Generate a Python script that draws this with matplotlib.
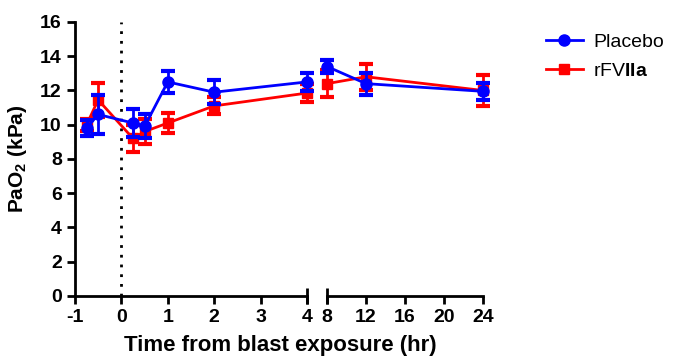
import matplotlib.pyplot as plt
from matplotlib.lines import Line2D

plt.rcParams['font.family'] = ['Liberation Sans', 'DejaVu Sans']
plt.rcParams['mathtext.fontset'] = 'custom'
plt.rcParams['mathtext.rm'] = 'Liberation Sans'
plt.rcParams['mathtext.bf'] = 'Liberation Sans:bold'

# time points (hr)
t_early = [-0.75, -0.5, 0.25, 0.5, 1, 2, 4]
t_late = [8, 12, 24]

placebo_early = [9.8, 10.6, 10.1, 9.9, 12.5, 11.9, 12.5]
placebo_early_err = [0.45, 1.15, 0.8, 0.7, 0.65, 0.7, 0.55]
placebo_late = [13.4, 12.4, 11.95]
placebo_late_err = [0.4, 0.65, 0.5]

rfviia_early = [10.0, 11.45, 9.2, 9.6, 10.1, 11.1, 11.85]
rfviia_early_err = [0.35, 1.0, 0.8, 0.75, 0.58, 0.5, 0.5]
rfviia_late = [12.4, 12.8, 12.0]
rfviia_late_err = [0.8, 0.75, 0.9]

early_ticks = [-1, 0, 1, 2, 3, 4]
late_ticks = [8, 12, 16, 20, 24]

blue = '#0000FF'
red = '#FF0000'

fig = plt.figure(figsize=(6.73, 3.58), dpi=100)
ax1 = fig.add_axes([0.1114, 0.1732, 0.3447, 0.7654])
ax2 = fig.add_axes([0.4859, 0.1732, 0.2318, 0.7654])

err_kw = dict(lw=2, elinewidth=2, capsize=5, capthick=3)

for ax, t, pv, pe, rv, re in [
    (ax1, t_early, placebo_early, placebo_early_err, rfviia_early, rfviia_early_err),
    (ax2, t_late, placebo_late, placebo_late_err, rfviia_late, rfviia_late_err),
]:
    ax.errorbar(t, rv, yerr=re, color=red, marker='s', ms=7, clip_on=False,
                zorder=3, **err_kw)
    ax.errorbar(t, pv, yerr=pe, color=blue, marker='o', ms=8, clip_on=False,
                zorder=4, **err_kw)
    ax.set_ylim(0, 16)
    for s in ['top', 'right']:
        ax.spines[s].set_visible(False)
    ax.spines['bottom'].set_linewidth(2)
    ax.tick_params(width=2, length=6, labelsize=14)

ax1.set_xlim(-1, 4)
ax1.set_xticks(early_ticks)
ax1.set_xticklabels([str(v) for v in early_ticks], fontweight='bold')
ax1.set_yticks(range(0, 17, 2))
ax1.set_yticklabels([str(v) for v in range(0, 17, 2)], fontweight='bold')
ax1.spines['left'].set_linewidth(2)
ax1.axvline(0, color='black', ls=(0, (1, 2.5)), lw=2, zorder=1)
ax1.set_ylabel(r'PaO$_\mathbf{2}$ (kPa)', fontsize=15, fontweight='bold', labelpad=8)

ax2.set_xlim(8, 24)
ax2.set_xticks(late_ticks)
ax2.set_xticklabels([str(v) for v in late_ticks], fontweight='bold')
ax2.spines['left'].set_visible(False)
ax2.set_yticks([])

# axis break end marks
ax1.plot([1], [0], marker='|', ms=12, mew=2, color='black',
         transform=ax1.transAxes, clip_on=False)
ax2.plot([0], [0], marker='|', ms=12, mew=2, color='black',
         transform=ax2.transAxes, clip_on=False)

fig.text(0.417, 0.02, 'Time from blast exposure (hr)', ha='center',
         fontsize=16, fontweight='bold')

handles = [Line2D([], [], color=blue, marker='o', ms=8, lw=2),
           Line2D([], [], color=red, marker='s', ms=7, lw=2)]
fig.legend(handles, ['Placebo', r'rFV$\mathbf{IIa}$'], loc='upper left',
           bbox_to_anchor=(0.785, 0.955), frameon=False, fontsize=14,
           handlelength=1.9, labelspacing=0.55, handletextpad=0.55)

fig.savefig('out.png', dpi=100)
